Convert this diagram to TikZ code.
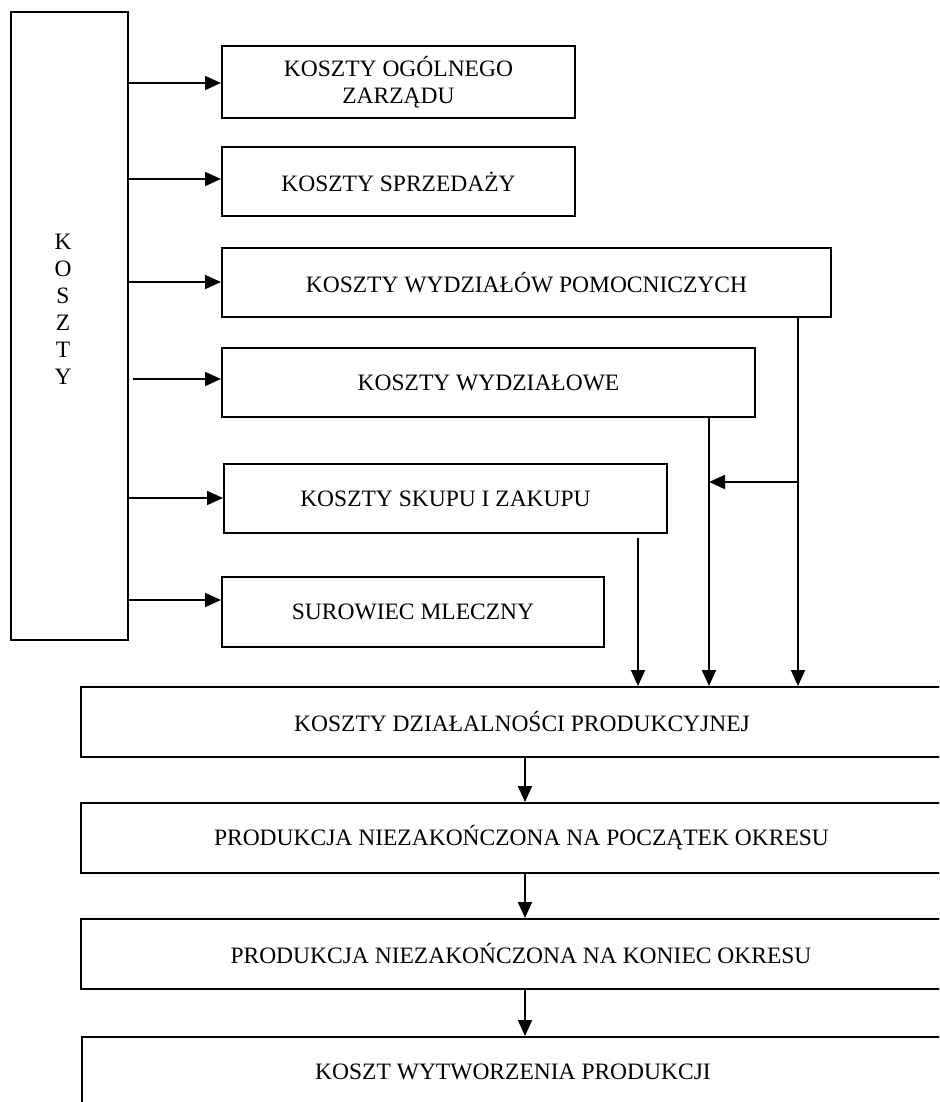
\documentclass[tikz,border=0pt]{standalone}
\usepackage{fontspec}
\setmainfont{Liberation Serif}
\usetikzlibrary{arrows.meta,calc}
\begin{document}
\begin{tikzpicture}[x=1pt,y=-1pt,
  box/.style={draw, line width=2pt, inner sep=0pt, align=center, font=\fontsize{23.5}{27}\selectfont},
  lbl/.style={inner sep=0pt, align=center, font=\fontsize{23.5}{27}\selectfont},
  arr/.style={line width=1.8pt, -{Triangle[length=16pt,width=14pt]}}]
\useasboundingbox (0,0) rectangle (939,1102);
\clip (0,0) rectangle (939,1102);
% left big box
\node[box, minimum width=117pt, minimum height=628pt] (koszty) at (69.5,326) {};
\node[lbl] (kl) at (63,309) {K\\O\\S\\Z\\T\\Y};
% cost boxes
\node[box, minimum width=353pt, minimum height=72pt] (b1) at (398.5,82) {KOSZTY OGÓLNEGO\\ZARZĄDU};
\node[box, minimum width=353pt, minimum height=69pt] (b2) at (398.5,181.5) {KOSZTY SPRZEDAŻY};
\node[box, minimum width=609pt, minimum height=69pt] (b3) at (526.5,282.5) {KOSZTY WYDZIAŁÓW POMOCNICZYCH};
\node[box, minimum width=533pt, minimum height=69pt] (b4) at (488.5,382.5) {KOSZTY WYDZIAŁOWE};
\node[box, minimum width=443pt, minimum height=69pt] (b5) at (445.5,498.5) {KOSZTY SKUPU I ZAKUPU};
\node[box, minimum width=382pt, minimum height=70pt] (b6) at (413,612) {SUROWIEC MLECZNY};
% bottom chain
\node[box, minimum width=882pt, minimum height=70pt] (kdp) at (522,722) {KOSZTY DZIAŁALNOŚCI PRODUKCYJNEJ};
\node[box, minimum width=881pt, minimum height=70pt] (pnpo) at (521.5,838) {PRODUKCJA NIEZAKOŃCZONA NA POCZĄTEK OKRESU};
\node[box, minimum width=880pt, minimum height=70pt] (pnko) at (521,954) {PRODUKCJA NIEZAKOŃCZONA NA KONIEC OKRESU};
\node[box, minimum width=862pt, minimum height=70pt] (kwp) at (513,1072) {KOSZT WYTWORZENIA PRODUKCJI};
% arrows from KOSZTY
\coordinate (y1) at (0,83);
\coordinate (y2) at (0,179);
\coordinate (y3) at (0,282);
\coordinate (y4) at (0,379);
\coordinate (y5) at (0,498);
\coordinate (y6) at (0,600);
\draw[arr] (koszty.east |- y1) -- (b1.west |- y1);
\draw[arr] (koszty.east |- y2) -- (b2.west |- y2);
\draw[arr] (koszty.east |- y3) -- (b3.west |- y3);
\draw[arr] ($(koszty.east |- y4)+(4,0)$) -- (b4.west |- y4);
\draw[arr] (koszty.east |- y5) -- (b5.west |- y5);
\draw[arr] (koszty.east |- y6) -- (b6.west |- y6);
% vertical feeders
\coordinate (x3) at (798,0);
\coordinate (x4) at (709,0);
\coordinate (x5) at (638,0);
\coordinate (j3) at (798,482);
\coordinate (j4) at (709,482);
\draw[arr] (b3.south -| x3) -- (kdp.north -| x3);
\draw[arr] (b4.south -| x4) -- (kdp.north -| x4);
\draw[arr] ($(b5.south -| x5)+(0,4)$) -- (kdp.north -| x5);
\draw[arr] (j3) -- (j4);
% chain arrows
\coordinate (xc) at (525,0);
\draw[arr] (kdp.south -| xc) -- (pnpo.north -| xc);
\draw[arr] (pnpo.south -| xc) -- (pnko.north -| xc);
\draw[arr] (pnko.south -| xc) -- (kwp.north -| xc);
\end{tikzpicture}
\end{document}
